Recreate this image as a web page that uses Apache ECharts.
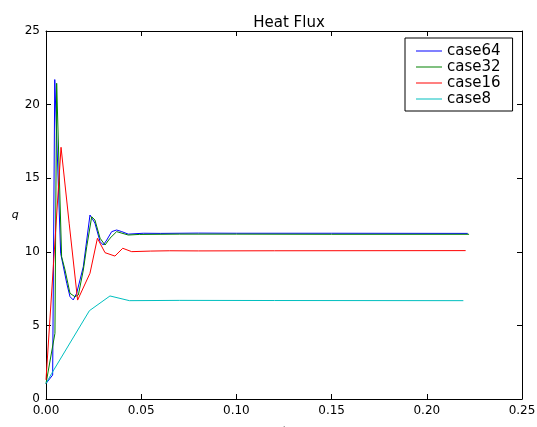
<!DOCTYPE html>
<html>
<head>
<meta charset="utf-8">
<script src="https://cdn.jsdelivr.net/npm/echarts@6/dist/echarts.min.js"></script>
<style>
  html, body { margin: 0; padding: 0; background: #fff; }
  #chart { width: 537px; height: 427px; }
</style>
</head>
<body>
<div id="chart"></div>
<script>
// Heat flux history q(t) for four mesh resolutions
const seriesNames = ['case64', 'case32', 'case16', 'case8'];
const seriesColors = ['#0000ff', '#008000', '#ff0000', '#00bfbf'];

const tCase64 = [0, 0.0035, 0.0046, 0.0077, 0.0109, 0.0126, 0.0143, 0.0161, 0.0196, 0.0231, 0.0240, 0.0257, 0.0284, 0.0301, 0.0319, 0.0345, 0.0371, 0.0398, 0.0432, 0.0511, 0.060, 0.080, 0.100, 0.150, 0.2215];
const qCase64 = [1.05, 1.63, 21.7, 9.9, 7.86, 6.95, 6.73, 7.18, 8.99, 12.5, 12.6, 11.95, 10.69, 10.46, 10.8, 11.37, 11.48, 11.37, 11.2, 11.26, 11.25, 11.27, 11.26, 11.26, 11.25];

const tCase32 = [0, 0.0047, 0.0056, 0.0082, 0.0100, 0.0126, 0.0152, 0.0170, 0.0196, 0.0214, 0.0240, 0.0257, 0.0284, 0.0310, 0.0336, 0.0371, 0.0432, 0.0490, 0.070, 0.100, 0.150, 0.2222];
const qCase32 = [1.05, 4.46, 21.45, 9.67, 8.76, 7.18, 6.95, 7.07, 8.76, 10.35, 12.38, 12.16, 10.92, 10.46, 10.92, 11.37, 11.14, 11.18, 11.2, 11.2, 11.19, 11.19];

const tCase16 = [0, 0.0040, 0.0079, 0.0122, 0.0166, 0.0231, 0.0270, 0.0310, 0.0362, 0.0403, 0.0450, 0.055, 0.065, 0.080, 0.120, 0.2204];
const qCase16 = [1.3, 9.3, 17.1, 11.9, 6.72, 8.54, 10.92, 9.94, 9.71, 10.24, 10.01, 10.05, 10.07, 10.06, 10.07, 10.08];

const tCase8 = [0, 0.0030, 0.0228, 0.0336, 0.0438, 0.070, 0.120, 0.2192];
const qCase8 = [1.05, 1.74, 6.0, 7.0, 6.68, 6.7, 6.69, 6.68];

const xTicks = [0, 0.05, 0.10, 0.15, 0.20, 0.25];
const yTicks = [0, 5, 10, 15, 20, 25];

const allT = [tCase64, tCase32, tCase16, tCase8];
const allQ = [qCase64, qCase32, qCase16, qCase8];

const font = 'DejaVu Sans';

const boxAxis = {
  axisLine: { show: true, onZero: false, lineStyle: { color: '#000', width: 1 } },
  axisTick: { show: true, inside: true, length: 5, lineStyle: { color: '#000' } },
  splitLine: { show: false }
};

const option = {
  animation: false,
  backgroundColor: '#ffffff',
  title: {
    text: 'Heat Flux',
    left: 284,
    textAlign: 'center',
    top: 11,
    textStyle: { fontFamily: font, fontSize: 15, fontWeight: 'normal', color: '#000' }
  },
  grid: { left: 46, right: 15, top: 31, bottom: 28, containLabel: false, outerBoundsMode: 'none' },
  legend: {
    orient: 'vertical',
    left: 405,
    top: 38,
    padding: [5, 12, 4, 11],
    borderColor: '#000',
    borderWidth: 1,
    backgroundColor: '#fff',
    icon: 'rect',
    itemWidth: 26,
    itemHeight: 1,
    itemGap: 0,
    itemTextGap: 10,
    data: seriesNames,
    textStyle: { fontFamily: font, fontSize: 15, color: '#000', lineHeight: 16 }
  },
  xAxis: [
    Object.assign({
      type: 'value',
      min: xTicks[0],
      max: xTicks[xTicks.length - 1],
      interval: 0.05,
      position: 'bottom',
      name: 't',
      nameLocation: 'middle',
      nameGap: 27,
      nameTextStyle: { fontFamily: font, fontSize: 11, fontStyle: 'italic', color: '#000' },
      axisLabel: {
        fontFamily: font, fontSize: 12, color: '#000', margin: 6,
        formatter: v => v.toFixed(2)
      }
    }, boxAxis),
    Object.assign({
      type: 'value',
      min: xTicks[0],
      max: xTicks[xTicks.length - 1],
      interval: 0.05,
      position: 'top',
      axisLabel: { show: false }
    }, boxAxis)
  ],
  yAxis: [
    Object.assign({
      type: 'value',
      min: yTicks[0],
      max: yTicks[yTicks.length - 1],
      interval: 5,
      position: 'left',
      name: 'q',
      nameLocation: 'middle',
      nameRotate: 0,
      nameGap: 27,
      nameTextStyle: { fontFamily: font, fontSize: 11, fontStyle: 'italic', color: '#000' },
      axisLabel: { fontFamily: font, fontSize: 12, color: '#000', margin: 6 }
    }, boxAxis),
    Object.assign({
      type: 'value',
      min: yTicks[0],
      max: yTicks[yTicks.length - 1],
      interval: 5,
      position: 'right',
      axisLabel: { show: false }
    }, boxAxis)
  ],
  series: seriesNames.map((name, i) => ({
    name: name,
    type: 'line',
    xAxisIndex: 0,
    yAxisIndex: 0,
    symbol: 'none',
    showSymbol: false,
    smooth: false,
    color: seriesColors[i],
    lineStyle: { width: 1, color: seriesColors[i] },
    data: allT[i].map((t, k) => [t, allQ[i][k]])
  }))
};

const chart = echarts.init(document.getElementById('chart'), null, { renderer: 'canvas' });
chart.setOption(option);
</script>
</body>
</html>
